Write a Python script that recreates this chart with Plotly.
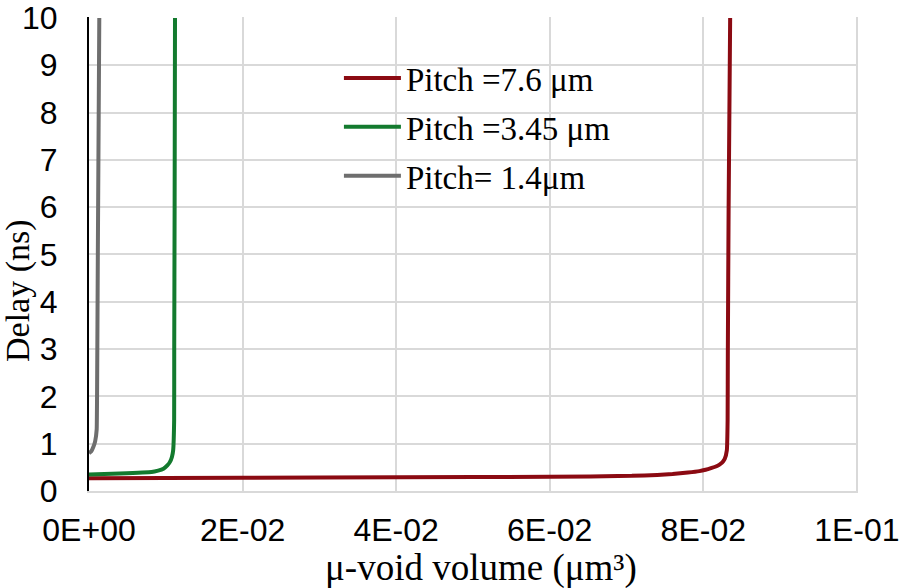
import plotly.graph_objects as go

# Data
red_x = [0, 0.02, 0.0404, 0.06, 0.0707, 0.074, 0.076, 0.078, 0.0795, 0.0803, 0.0811,
         0.0818, 0.0823, 0.0826, 0.0828, 0.08307, 0.08317, 0.0832, 0.0833, 0.0835]
red_y = [0.27, 0.28, 0.29, 0.30, 0.32, 0.34, 0.36, 0.39, 0.42, 0.45, 0.49,
         0.53, 0.58, 0.63, 0.68, 0.86, 1.5, 3.0, 6.0, 10]

green_x = [0, 0.004, 0.00815, 0.0090, 0.0097, 0.0102, 0.01053, 0.0108, 0.01096, 0.01109,
           0.0111, 0.01115, 0.0112]
green_y = [0.35, 0.37, 0.40, 0.43, 0.47, 0.54, 0.61, 0.72, 0.86, 1.5, 3.0, 6.0, 10]

gray_x = [0, 0.0003, 0.00056, 0.0008, 0.001, 0.00105, 0.00115, 0.00134]
gray_y = [0.80, 0.84, 0.93, 1.05, 1.3, 2.0, 5.0, 10]

names = ["Pitch =7.6 μm", "Pitch =3.45 μm", "Pitch= 1.4μm"]
colors = ["#8B0A12", "#137A2E", "#6E6E6E"]

x_tickvals = [0, 0.02, 0.04, 0.06, 0.08, 0.1]
x_ticktext = ["0E+00", "2E-02", "4E-02", "6E-02", "8E-02", "1E-01"]
y_tickvals = list(range(0, 11))

x_title = "μ-void volume (μm³)"
y_title = "Delay (ns)"

PLOT_TOP, PLOT_BOTTOM = 17, 491
PH = PLOT_BOTTOM - PLOT_TOP

fig = go.Figure()
for i, (xs, ys) in enumerate([(red_x, red_y), (green_x, green_y), (gray_x, gray_y)]):
    fig.add_trace(go.Scatter(x=xs, y=ys, mode="lines", name=names[i],
                             legendgroup=str(i),
                             line=dict(color=colors[i], width=4, shape="spline", smoothing=0.3)))

fig.update_layout(
    width=903, height=588,
    margin=dict(l=89, r=45, t=PLOT_TOP, b=588 - PLOT_BOTTOM, autoexpand=False),
    plot_bgcolor="white", paper_bgcolor="white",
    showlegend=True,
    legend=dict(x=0.325, y=1 - (50 - PLOT_TOP) / PH, xanchor="left", yanchor="top", itemwidth=57,
                bgcolor="rgba(0,0,0,0)", traceorder="grouped", tracegroupgap=3,
                font=dict(family="Liberation Serif", size=33, color="black")),
    annotations=[
        dict(text=y_title, textangle=-90, xref="paper", yref="paper",
             x=(18 - 89) / 769, y=(PLOT_BOTTOM - 291) / PH, xanchor="center", yanchor="middle",
             showarrow=False, font=dict(family="Liberation Serif", size=34, color="black")),
        dict(text=x_title, xref="paper", yref="paper",
             x=(481 - 89) / 769, y=(PLOT_BOTTOM - 568) / PH, xanchor="center", yanchor="middle",
             showarrow=False, font=dict(family="Liberation Serif", size=37, color="black")),
    ],
)
fig.update_xaxes(range=[0, 0.10015], tickvals=x_tickvals, ticktext=x_ticktext,
                 showgrid=True, gridcolor="#d9d9d9", gridwidth=2,
                 showline=True, linecolor="#d9d9d9", linewidth=2, zeroline=False,
                 ticks="outside", ticklen=0, ticklabelstandoff=10,
                 ticklabeloverflow="allow", automargin=False,
                 tickfont=dict(family="Liberation Sans", size=32, color="black"))
fig.update_yaxes(range=[0, 10.02], tickvals=y_tickvals,
                 showgrid=True, gridcolor="#d9d9d9", gridwidth=2,
                 showline=True, linecolor="black", linewidth=2, zeroline=False,
                 ticks="outside", ticklen=0, ticklabelstandoff=23,
                 ticklabeloverflow="allow", automargin=False,
                 tickfont=dict(family="Liberation Sans", size=32, color="black"))
fig.write_html("out.html")
